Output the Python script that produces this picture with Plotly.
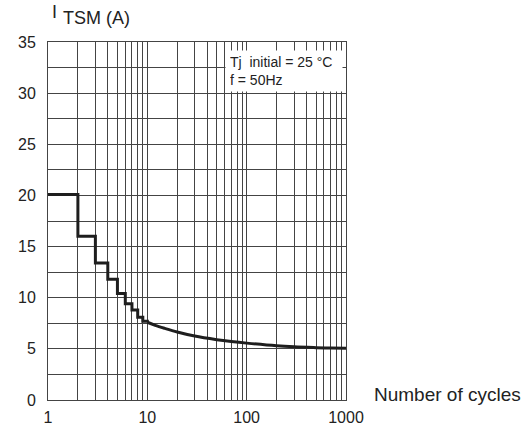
import plotly.graph_objects as go

# Step part (integer number of cycles)
step_cycles = [1, 2, 3, 4, 5, 6, 7, 8, 9, 10]
step_itsm = [20.1, 16.0, 13.4, 11.8, 10.4, 9.4, 8.8, 8.1, 7.7, 7.6]
# Smooth part
curve_cycles = [10, 12, 15, 20, 30, 50, 70, 100, 200, 300, 500, 700, 1000]
curve_itsm = [7.6, 7.3, 7.0, 6.65, 6.25, 5.9, 5.72, 5.56, 5.3, 5.2, 5.12, 5.08, 5.05]

x_grid = [m * d for d in (1, 10, 100) for m in range(1, 10)] + [1000]
x_labels = ["1", "10", "100", "1000"]
x_ticktext = [str(v) if str(v) in x_labels else "" for v in x_grid]
y_grid = [i * 2.5 for i in range(15)]
y_ticktext = [str(int(v)) if v % 5 == 0 else "" for v in y_grid]

FONT = "Liberation Sans, Arial, Helvetica, sans-serif"
LINE = "#1e1e1e"

fig = go.Figure()
fig.add_trace(go.Scatter(x=step_cycles, y=step_itsm, mode="lines",
                         line=dict(color=LINE, width=3, shape="hv"),
                         showlegend=False, hoverinfo="skip"))
fig.add_trace(go.Scatter(x=curve_cycles, y=curve_itsm, mode="lines",
                         line=dict(color=LINE, width=3, shape="spline"),
                         showlegend=False, hoverinfo="skip"))

fig.update_layout(
    width=531, height=438,
    margin=dict(l=48, r=185, t=42, b=33),
    paper_bgcolor="white", plot_bgcolor="white",
    font=dict(family=FONT, size=16, color="#222"),
    xaxis=dict(type="log", range=[0, 3], tickvals=x_grid, ticktext=x_ticktext,
               showgrid=True, gridcolor="#444", gridwidth=1, zeroline=False,
               showline=True, linecolor="#444", linewidth=1, mirror=True,
               ticks="", ticklabelstandoff=3),
    yaxis=dict(range=[0, 35], tickvals=y_grid, ticktext=y_ticktext,
               showgrid=True, gridcolor="#444", gridwidth=1, zeroline=False,
               showline=True, linecolor="#444", linewidth=1, mirror=True,
               ticks="", ticklabelstandoff=8),
    annotations=[
        dict(text="I", xref="paper", yref="paper", x=0.008, y=1.085,
             xanchor="left", yanchor="middle", showarrow=False,
             font=dict(size=18)),
        dict(text="TSM (A)", xref="paper", yref="paper", x=0.043, y=1.066,
             xanchor="left", yanchor="middle", showarrow=False,
             font=dict(size=18)),
        dict(text="Number of cycles", xref="paper", yref="paper", x=1.087, y=0.014,
             xanchor="left", yanchor="middle", showarrow=False,
             font=dict(size=19)),
        dict(text="Tj  initial = 25 °C<br>f = 50Hz", xref="paper", yref="paper",
             x=0.594, y=0.978, xanchor="left", yanchor="top", showarrow=False,
             align="left", valign="middle", width=108, height=32, borderpad=4,
             bgcolor="white", font=dict(size=14)),
    ],
)

fig.write_html("out.html")
